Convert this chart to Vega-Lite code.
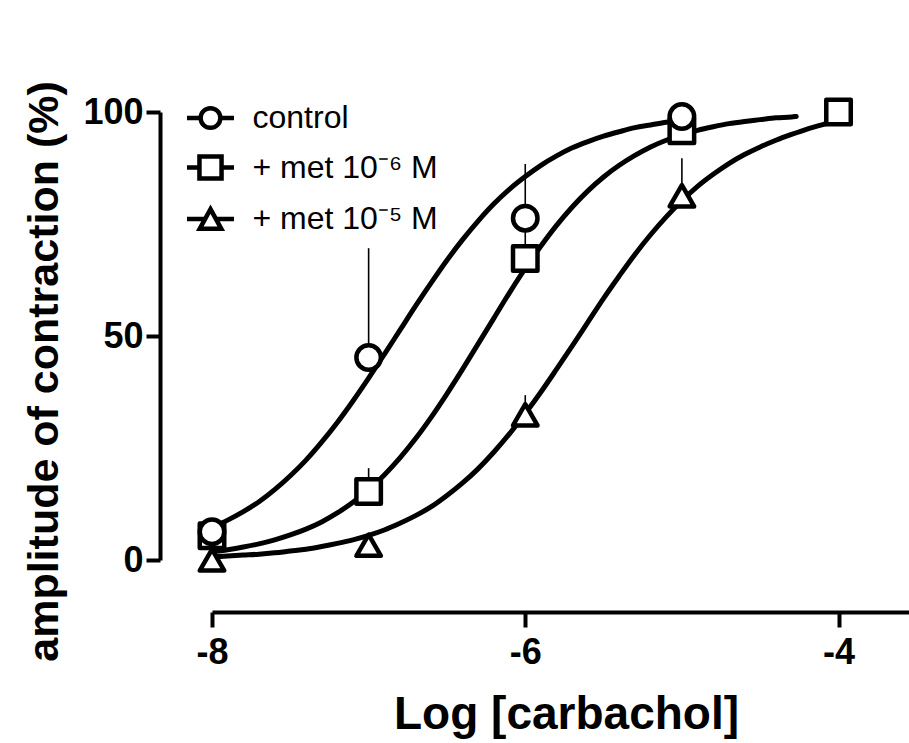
{
  "$schema": "https://vega.github.io/schema/vega-lite/v6.json",
  "width": 697,
  "height": 448,
  "autosize": {"type": "none"},
  "padding": {"left": 212, "top": 112, "right": 0, "bottom": 183},
  "config": {
    "view": {"stroke": null},
    "font": "Liberation Sans",
    "legend": {
      "orient": "none",
      "legendX": -27.5,
      "legendY": -20,
      "padding": 0,
      "symbolSize": 2209,
      "symbolStrokeWidth": 4.5,
      "symbolStrokeColor": "black",
      "labelFont": "Liberation Sans",
      "labelFontSize": 32,
      "labelColor": "black",
      "labelOffset": 16,
      "rowPadding": 4.5,
      "labelLimit": 400
    }
  },
  "datasets": {
    "pts": [
      {"s": "+ met 10⁻⁵ M", "x": -8, "y": 0},
      {"s": "+ met 10⁻⁵ M", "x": -7, "y": 3.3},
      {"s": "+ met 10⁻⁵ M", "x": -6, "y": 32.4},
      {"s": "+ met 10⁻⁵ M", "x": -5, "y": 81.3},
      {"s": "+ met 10⁻⁶ M", "x": -8, "y": 5.4},
      {"s": "+ met 10⁻⁶ M", "x": -7, "y": 15.3},
      {"s": "+ met 10⁻⁶ M", "x": -6, "y": 67.3},
      {"s": "+ met 10⁻⁶ M", "x": -5, "y": 95.8},
      {"s": "+ met 10⁻⁶ M", "x": -4, "y": 100},
      {"s": "control", "x": -8, "y": 6.3},
      {"s": "control", "x": -7, "y": 45.2},
      {"s": "control", "x": -6, "y": 76.3},
      {"s": "control", "x": -5, "y": 99.0}
    ],
    "err": [
      {"s": "control", "x": -7, "y": 45.2, "y2": 69.6},
      {"s": "control", "x": -6, "y": 76.3, "y2": 88.4},
      {"s": "+ met 10⁻⁶ M", "x": -7, "y": 15.3, "y2": 20.5},
      {"s": "+ met 10⁻⁶ M", "x": -6, "y": 67.3, "y2": 74},
      {"s": "+ met 10⁻⁵ M", "x": -6, "y": 32.4, "y2": 36.8},
      {"s": "+ met 10⁻⁵ M", "x": -5, "y": 81.3, "y2": 89.7}
    ],
    "curves": [
      {"s": "control", "x": -8, "y": 7.3}, {"s": "control", "x": -7.9, "y": 8.9}, {"s": "control", "x": -7.8, "y": 10.8}, {"s": "control", "x": -7.7, "y": 13.0}, {"s": "control", "x": -7.6, "y": 15.7}, {"s": "control", "x": -7.5, "y": 18.8}, {"s": "control", "x": -7.4, "y": 22.3}, {"s": "control", "x": -7.3, "y": 26.3}, {"s": "control", "x": -7.2, "y": 30.7}, {"s": "control", "x": -7.1, "y": 35.5}, {"s": "control", "x": -7.0, "y": 40.6}, {"s": "control", "x": -6.9, "y": 45.9}, {"s": "control", "x": -6.8, "y": 51.3}, {"s": "control", "x": -6.7, "y": 56.7}, {"s": "control", "x": -6.6, "y": 61.9}, {"s": "control", "x": -6.5, "y": 66.9}, {"s": "control", "x": -6.4, "y": 71.5}, {"s": "control", "x": -6.3, "y": 75.7}, {"s": "control", "x": -6.2, "y": 79.5}, {"s": "control", "x": -6.1, "y": 82.8}, {"s": "control", "x": -6.0, "y": 85.6}, {"s": "control", "x": -5.9, "y": 88.1}, {"s": "control", "x": -5.8, "y": 90.2}, {"s": "control", "x": -5.7, "y": 92.0}, {"s": "control", "x": -5.6, "y": 93.4}, {"s": "control", "x": -5.5, "y": 94.6}, {"s": "control", "x": -5.4, "y": 95.6}, {"s": "control", "x": -5.3, "y": 96.5}, {"s": "control", "x": -5.2, "y": 97.1}, {"s": "control", "x": -5.1, "y": 97.7}, {"s": "control", "x": -5.0, "y": 98.1},
      {"s": "+ met 10⁻⁶ M", "x": -8, "y": 1.8}, {"s": "+ met 10⁻⁶ M", "x": -7.9, "y": 2.3}, {"s": "+ met 10⁻⁶ M", "x": -7.8, "y": 2.9}, {"s": "+ met 10⁻⁶ M", "x": -7.7, "y": 3.6}, {"s": "+ met 10⁻⁶ M", "x": -7.6, "y": 4.5}, {"s": "+ met 10⁻⁶ M", "x": -7.5, "y": 5.6}, {"s": "+ met 10⁻⁶ M", "x": -7.4, "y": 6.9}, {"s": "+ met 10⁻⁶ M", "x": -7.3, "y": 8.5}, {"s": "+ met 10⁻⁶ M", "x": -7.2, "y": 10.5}, {"s": "+ met 10⁻⁶ M", "x": -7.1, "y": 12.9}, {"s": "+ met 10⁻⁶ M", "x": -7.0, "y": 15.7}, {"s": "+ met 10⁻⁶ M", "x": -6.9, "y": 19.0}, {"s": "+ met 10⁻⁶ M", "x": -6.8, "y": 22.8}, {"s": "+ met 10⁻⁶ M", "x": -6.7, "y": 27.1}, {"s": "+ met 10⁻⁶ M", "x": -6.6, "y": 31.9}, {"s": "+ met 10⁻⁶ M", "x": -6.5, "y": 37.1}, {"s": "+ met 10⁻⁶ M", "x": -6.4, "y": 42.6}, {"s": "+ met 10⁻⁶ M", "x": -6.3, "y": 48.3}, {"s": "+ met 10⁻⁶ M", "x": -6.2, "y": 54.0}, {"s": "+ met 10⁻⁶ M", "x": -6.1, "y": 59.7}, {"s": "+ met 10⁻⁶ M", "x": -6.0, "y": 65.1}, {"s": "+ met 10⁻⁶ M", "x": -5.9, "y": 70.1}, {"s": "+ met 10⁻⁶ M", "x": -5.8, "y": 74.7}, {"s": "+ met 10⁻⁶ M", "x": -5.7, "y": 78.8}, {"s": "+ met 10⁻⁶ M", "x": -5.6, "y": 82.4}, {"s": "+ met 10⁻⁶ M", "x": -5.5, "y": 85.5}, {"s": "+ met 10⁻⁶ M", "x": -5.4, "y": 88.1}, {"s": "+ met 10⁻⁶ M", "x": -5.3, "y": 90.3}, {"s": "+ met 10⁻⁶ M", "x": -5.2, "y": 92.2}, {"s": "+ met 10⁻⁶ M", "x": -5.1, "y": 93.7}, {"s": "+ met 10⁻⁶ M", "x": -5.0, "y": 94.9}, {"s": "+ met 10⁻⁶ M", "x": -4.9, "y": 95.9}, {"s": "+ met 10⁻⁶ M", "x": -4.8, "y": 96.7}, {"s": "+ met 10⁻⁶ M", "x": -4.7, "y": 97.4}, {"s": "+ met 10⁻⁶ M", "x": -4.6, "y": 97.9}, {"s": "+ met 10⁻⁶ M", "x": -4.5, "y": 98.3}, {"s": "+ met 10⁻⁶ M", "x": -4.4, "y": 98.7}, {"s": "+ met 10⁻⁶ M", "x": -4.3, "y": 98.9}, {"s": "+ met 10⁻⁶ M", "x": -4.27, "y": 99.0},
      {"s": "+ met 10⁻⁵ M", "x": -8, "y": 0.7}, {"s": "+ met 10⁻⁵ M", "x": -7.9, "y": 0.9}, {"s": "+ met 10⁻⁵ M", "x": -7.8, "y": 1.1}, {"s": "+ met 10⁻⁵ M", "x": -7.7, "y": 1.3}, {"s": "+ met 10⁻⁵ M", "x": -7.6, "y": 1.6}, {"s": "+ met 10⁻⁵ M", "x": -7.5, "y": 2.0}, {"s": "+ met 10⁻⁵ M", "x": -7.4, "y": 2.4}, {"s": "+ met 10⁻⁵ M", "x": -7.3, "y": 3.0}, {"s": "+ met 10⁻⁵ M", "x": -7.2, "y": 3.7}, {"s": "+ met 10⁻⁵ M", "x": -7.1, "y": 4.5}, {"s": "+ met 10⁻⁵ M", "x": -7.0, "y": 5.5}, {"s": "+ met 10⁻⁵ M", "x": -6.9, "y": 6.7}, {"s": "+ met 10⁻⁵ M", "x": -6.8, "y": 8.2}, {"s": "+ met 10⁻⁵ M", "x": -6.7, "y": 9.9}, {"s": "+ met 10⁻⁵ M", "x": -6.6, "y": 11.9}, {"s": "+ met 10⁻⁵ M", "x": -6.5, "y": 14.4}, {"s": "+ met 10⁻⁵ M", "x": -6.4, "y": 17.2}, {"s": "+ met 10⁻⁵ M", "x": -6.3, "y": 20.4}, {"s": "+ met 10⁻⁵ M", "x": -6.2, "y": 24.1}, {"s": "+ met 10⁻⁵ M", "x": -6.1, "y": 28.2}, {"s": "+ met 10⁻⁵ M", "x": -6.0, "y": 32.7}, {"s": "+ met 10⁻⁵ M", "x": -5.9, "y": 37.5}, {"s": "+ met 10⁻⁵ M", "x": -5.8, "y": 42.6}, {"s": "+ met 10⁻⁵ M", "x": -5.7, "y": 47.8}, {"s": "+ met 10⁻⁵ M", "x": -5.6, "y": 53.1}, {"s": "+ met 10⁻⁵ M", "x": -5.5, "y": 58.4}, {"s": "+ met 10⁻⁵ M", "x": -5.4, "y": 63.4}, {"s": "+ met 10⁻⁵ M", "x": -5.3, "y": 68.2}, {"s": "+ met 10⁻⁵ M", "x": -5.2, "y": 72.6}, {"s": "+ met 10⁻⁵ M", "x": -5.1, "y": 76.6}, {"s": "+ met 10⁻⁵ M", "x": -5.0, "y": 80.2}, {"s": "+ met 10⁻⁵ M", "x": -4.9, "y": 83.4}, {"s": "+ met 10⁻⁵ M", "x": -4.8, "y": 86.1}, {"s": "+ met 10⁻⁵ M", "x": -4.7, "y": 88.5}, {"s": "+ met 10⁻⁵ M", "x": -4.6, "y": 90.5}, {"s": "+ met 10⁻⁵ M", "x": -4.5, "y": 92.2}, {"s": "+ met 10⁻⁵ M", "x": -4.4, "y": 93.7}, {"s": "+ met 10⁻⁵ M", "x": -4.3, "y": 95.0}, {"s": "+ met 10⁻⁵ M", "x": -4.2, "y": 96.2}, {"s": "+ met 10⁻⁵ M", "x": -4.1, "y": 97.2}, {"s": "+ met 10⁻⁵ M", "x": -4.0, "y": 98.1}
    ]
  },
  "encoding": {
    "x": {
      "field": "x", "type": "quantitative",
      "scale": {"domain": [-8, -3.55], "nice": false, "zero": false},
      "axis": {
        "title": "Log [carbachol]",
        "values": [-8, -6, -4],
        "labelExpr": "'' + datum.value",
        "grid": false,
        "offset": 52,
        "domainColor": "black", "domainWidth": 4,
        "tickColor": "black", "tickWidth": 4, "tickSize": 15,
        "labelFont": "Liberation Sans", "labelFontSize": 36, "labelFontWeight": "bold", "labelColor": "black",
        "labelPadding": 8, "labelFlush": false,
        "titleFont": "Liberation Sans", "titleFontSize": 46, "titleFontWeight": "bold", "titleColor": "black",
        "titleX": 354, "titleY": 116, "titleBaseline": "alphabetic"
      }
    },
    "y": {
      "field": "y", "type": "quantitative",
      "scale": {"domain": [0, 100], "nice": false},
      "axis": {
        "title": "amplitude of contraction (%)",
        "values": [0, 50, 100],
        "labelExpr": "'' + datum.value",
        "grid": false,
        "offset": 52,
        "domainColor": "black", "domainWidth": 4,
        "tickColor": "black", "tickWidth": 4, "tickSize": 14,
        "labelFont": "Liberation Sans", "labelFontSize": 36, "labelFontWeight": "bold", "labelColor": "black",
        "labelPadding": 3, "labelFlush": false,
        "titleFont": "Liberation Sans", "titleFontSize": 43, "titleFontWeight": "bold", "titleColor": "black",
        "titleX": -103, "titleY": 259, "titleBaseline": "alphabetic", "titleAlign": "center", "titleAngle": -90
      }
    }
  },
  "layer": [
    {
      "data": {"name": "err"},
      "mark": {"type": "rule", "color": "black", "strokeWidth": 1.6},
      "encoding": {"y2": {"field": "y2"}}
    },
    {
      "data": {"name": "curves"},
      "mark": {"type": "line", "color": "black", "strokeWidth": 5, "interpolate": "monotone", "strokeCap": "round"},
      "encoding": {"detail": {"field": "s"}}
    },
    {
      "data": {"name": "pts"},
      "mark": {"type": "point", "filled": false, "color": "black", "stroke": "black", "strokeWidth": 4.5, "opacity": 1, "size": 100},
      "encoding": {
        "shape": {
          "field": "s", "type": "nominal",
          "scale": {
            "domain": ["control", "+ met 10⁻⁶ M", "+ met 10⁻⁵ M"],
            "range": [
              "M-1,0L-0.42,0M0.42,0L1,0M0.42,0A0.42,0.42,0,1,1,-0.42,0A0.42,0.42,0,1,1,0.42,0Z",
              "M-1,0L-0.47,0M0.47,0L1,0M-0.47,-0.47L0.47,-0.47L0.47,0.47L-0.47,0.47Z",
              "M-1,0L-0.23,0M0.23,0L1,0M0,-0.42L0.46,0.42L-0.46,0.42Z"
            ]
          },
          "legend": {"title": null, "symbolSize": 2209, "symbolStrokeWidth": 4.5}
        }
      }
    },
    {
      "data": {"name": "pts"},
      "mark": {"type": "point", "filled": true, "fill": "white", "stroke": "black", "strokeWidth": 4.5, "strokeJoin": "round", "opacity": 1},
      "encoding": {
        "shape": {
          "field": "s", "type": "nominal",
          "scale": {"domain": ["control", "+ met 10⁻⁶ M", "+ met 10⁻⁵ M"], "range": ["circle", "square", "triangle-up"]},
          "legend": null
        },
        "size": {
          "field": "s", "type": "nominal",
          "scale": {"domain": ["control", "+ met 10⁻⁶ M", "+ met 10⁻⁵ M"], "range": [600, 600, 560]},
          "legend": null
        }
      }
    }
  ],
  "resolve": {"scale": {"shape": "independent", "size": "independent"}}
}
